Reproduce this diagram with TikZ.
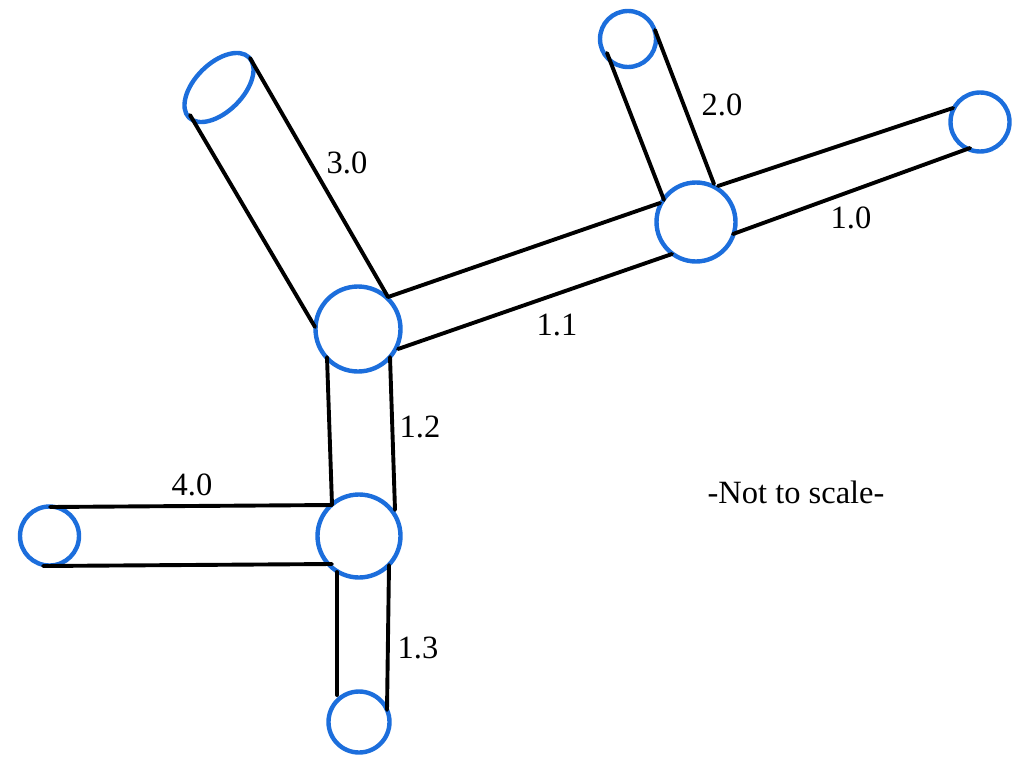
\documentclass[tikz,border=0pt]{standalone}
\usepackage{fontspec}
\setmainfont{Liberation Serif}
\usetikzlibrary{shapes.geometric}
\definecolor{ringblue}{RGB}{28,110,220}
\tikzset{
  pipe/.style={line width=3.9pt,black,line cap=round},
  ring/.style={circle,draw=ringblue,line width=4.4pt,fill=white,inner sep=0pt},
  lbl/.style={font=\fontsize{32.5}{36}\selectfont,inner sep=0pt,text=black}
}
\begin{document}
\begin{tikzpicture}[x=1pt,y=-1pt]
\useasboundingbox (0,0) rectangle (1024,773);
% rings
\node[ring,minimum size=85] (j1n) at (358,329) {};
\node[ring,minimum size=79] (j2n) at (696,222) {};
\node[ring,minimum size=83] (j3n) at (359,536) {};
\node[ring,minimum size=59] (e1n) at (980,122) {};
\node[ring,minimum size=56] (e2n) at (628,39) {};
\node[ring,minimum size=61] (e3n) at (359,722) {};
\node[ring,minimum size=59] (e4n) at (49.5,536) {};
\node[ellipse,draw=ringblue,line width=4.4pt,inner sep=0pt,minimum width=85,minimum height=48,rotate=45] (e5n) at (219,87.5) {};
% pipe end coordinates
\coordinate (a1) at (250,58); \coordinate (a2) at (388,297);
\coordinate (b1) at (190,115); \coordinate (b2) at (315,327);
\coordinate (c1) at (388,297); \coordinate (c2) at (660,203);
\coordinate (d1) at (398,349); \coordinate (d2) at (672,254);
\coordinate (e1) at (718,186); \coordinate (e2) at (953,108);
\coordinate (f1) at (733,234); \coordinate (f2) at (970,148);
\coordinate (g1) at (607,53); \coordinate (g2) at (664,200);
\coordinate (h1) at (655,30); \coordinate (h2) at (714,184);
\coordinate (i1) at (327,357); \coordinate (i2) at (332,505);
\coordinate (j1) at (390,357); \coordinate (j2) at (395,510);
\coordinate (k1) at (50,507); \coordinate (k2) at (332,505);
\coordinate (l1) at (43,566); \coordinate (l2) at (332,564);
\coordinate (m1) at (337,572); \coordinate (m2) at (337,695);
\coordinate (n1) at (389,565); \coordinate (n2) at (387,710);
\foreach \p/\q in {a1/a2,b1/b2,c1/c2,d1/d2,e1/e2,f1/f2,g1/g2,h1/h2,i1/i2,j1/j2,k1/k2,l1/l2,m1/m2,n1/n2}
  \draw[pipe] (\p) -- (\q);
% labels
\node[lbl] at (347,163) {3.0};
\node[lbl] at (722,105) {2.0};
\node[lbl] at (851,218) {1.0};
\node[lbl] at (557,325) {1.1};
\node[lbl] at (420,427) {1.2};
\node[lbl] at (192,485) {4.0};
\node[lbl] at (418,648) {1.3};
\node[lbl] at (796,492) {-Not to scale-};
\end{tikzpicture}
\end{document}
